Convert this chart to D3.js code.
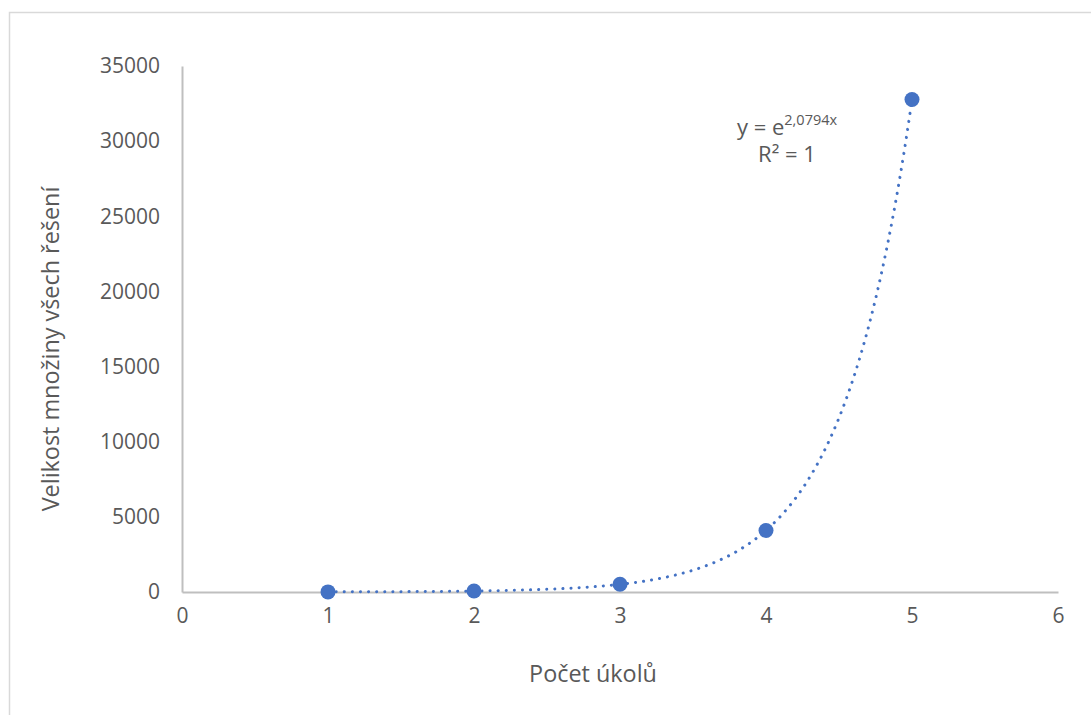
<!DOCTYPE html>
<html>
<head>
<meta charset="utf-8">
<script src="https://cdn.jsdelivr.net/npm/d3@7"></script>
<style>
  body { margin: 0; background: #fff; }
  text { font-family: "Open Sans", sans-serif; fill: #595959; }
</style>
</head>
<body>
<svg id="chart" width="1091" height="715"></svg>
<script>
// data
var tasks = [1, 2, 3, 4, 5]
var sizes = [8, 64, 512, 4096, 32768]
var xTicks = [0, 1, 2, 3, 4, 5, 6]
var yTicks = [0, 5000, 10000, 15000, 20000, 25000, 30000, 35000]
var eqText = "y = e"
var eqExp = "2,0794x"
var r2Text = "R² = 1"

var svg = d3.select('#chart')

// outer chart border
svg.append('rect')
	.attr('x', 9.5).attr('y', 12.5)
	.attr('width', 1100).attr('height', 720)
	.attr('fill', 'none').attr('stroke', '#d9d9d9').attr('stroke-width', 1.5)

var x = d3.scaleLinear().domain([0, 6]).range([182, 1058])
var y = d3.scaleLinear().domain([0, 35000]).range([592, 66])

var gx = svg.append('g').attr('transform', 'translate(0,592)')
	.call(d3.axisBottom(x).tickValues(xTicks).tickSize(0).tickPadding(16).tickFormat(d3.format('d')))
var gy = svg.append('g').attr('transform', 'translate(182,0)')
	.call(d3.axisLeft(y).tickValues(yTicks).tickSize(0).tickPadding(22).tickFormat(d3.format('d')))

;[gx, gy].forEach(function(g){
	g.select('.domain').attr('stroke', '#bfbfbf').attr('stroke-width', 2)
	g.selectAll('text').attr('font-size', '21px').attr('fill', '#595959')
		.attr('font-family', '"Open Sans", sans-serif')
})
gx.selectAll('text').attr('dy', '0.71em')

// exponential fit on log(y), no intercept like the shown equation
var sxy = d3.sum(tasks, function(t, i){ return t * Math.log(sizes[i]) })
var sxx = d3.sum(tasks, function(t){ return t * t })
var b = sxy / sxx

var curve = d3.range(1, 5.001, 0.02).map(function(t){ return [t, Math.exp(b * t)] })
svg.append('path')
	.datum(curve)
	.attr('d', d3.line().x(function(d){ return x(d[0]) }).y(function(d){ return y(d[1]) }))
	.attr('fill', 'none')
	.attr('stroke', '#4472c4')
	.attr('stroke-width', 3)
	.attr('stroke-linecap', 'round')
	.attr('stroke-dasharray', '0.1 8')

svg.selectAll('circle.pt').data(tasks).enter().append('circle')
	.attr('class', 'pt')
	.attr('cx', function(d){ return x(d) })
	.attr('cy', function(d, i){ return y(sizes[i]) })
	.attr('r', 7.5)
	.attr('fill', '#4472c4')

// trendline label
var eq = svg.append('text').attr('x', 787).attr('y', 135).attr('text-anchor', 'middle')
	.attr('font-size', '22px')
eq.append('tspan').text(eqText)
eq.append('tspan').attr('font-size', '14.5px').attr('dy', -10).text(eqExp)
svg.append('text').attr('x', 787).attr('y', 162).attr('text-anchor', 'middle')
	.attr('font-size', '22px').text(r2Text)

// axis titles
svg.append('text').attr('x', 593).attr('y', 682).attr('text-anchor', 'middle')
	.attr('font-size', '23.4px').text('Počet úkolů')
svg.append('text').attr('transform', 'translate(59,349) rotate(-90)').attr('text-anchor', 'middle')
	.attr('font-size', '23.4px').text('Velikost množiny všech řešení')
</script>
</body>
</html>
